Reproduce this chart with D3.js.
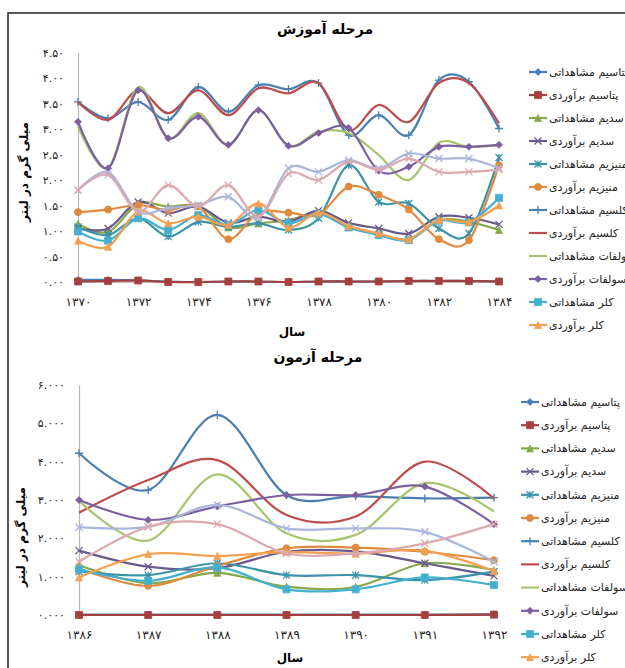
<!DOCTYPE html>
<html>
<head>
<meta charset="utf-8">
<script src="https://cdn.jsdelivr.net/npm/d3@7"></script>
<style>
  body { margin: 0; background: #fff; }
  text { font-family: "DejaVu Sans", sans-serif; }
</style>
</head>
<body>
<svg id="chart" width="625" height="668"></svg>
<script>
/** Series names as they appear in the legend (same for both panels) */
var seriesNames = [
    'پتاسیم مشاهداتی', 'پتاسیم برآوردی',
    'سدیم مشاهداتی', 'سدیم برآوردی',
    'منیزیم مشاهداتی', 'منیزیم برآوردی',
    'کلسیم مشاهداتی', 'کلسیم برآوردی',
    'سولفات مشاهداتی', 'سولفات برآوردی',
    'کلر مشاهداتی', 'کلر برآوردی'
];

/** Training panel (مرحله آموزش) */
var trainYears = [1370, 1371, 1372, 1373, 1374, 1375, 1376, 1377, 1378, 1379, 1380, 1381, 1382, 1383, 1384];
var trainYearLabels = ['۱۳۷۰', '۱۳۷۱', '۱۳۷۲', '۱۳۷۳', '۱۳۷۴', '۱۳۷۵', '۱۳۷۶', '۱۳۷۷', '۱۳۷۸', '۱۳۷۹', '۱۳۸۰', '۱۳۸۱', '۱۳۸۲', '۱۳۸۳', '۱۳۸۴'];
var trainValueTicks = [0, 0.5, 1, 1.5, 2, 2.5, 3, 3.5, 4, 4.5];
var trainValueLabels = ['۰.۰۰', '۰.۵۰', '۱.۰۰', '۱.۵۰', '۲.۰۰', '۲.۵۰', '۳.۰۰', '۳.۵۰', '۴.۰۰', '۴.۵۰'];

var trainPotassiumObs = [0.04, 0.04, 0.03, 0.01, 0, 0.01, 0.01, 0, 0.01, 0.01, 0.01, 0.02, 0.02, 0.02, 0.01];
var trainPotassiumEst = [0.01, 0.02, 0.03, 0, 0, 0.01, 0.01, 0, 0.01, 0.01, 0.01, 0.02, 0.02, 0.02, 0.01];
var trainSodiumObs = [1.14, 0.98, 1.53, 1.48, 1.49, 1.07, 1.15, 1.21, 1.35, 1.08, 0.94, 0.84, 1.22, 1.18, 1.02];
var trainSodiumEst = [1.05, 1.05, 1.57, 1.35, 1.48, 1.16, 1.28, 1.18, 1.40, 1.16, 1.05, 0.95, 1.28, 1.26, 1.13];
var trainMagnesiumObs = [1.08, 0.92, 1.25, 0.89, 1.18, 1.08, 1.15, 1.02, 1.25, 2.29, 1.57, 1.54, 1.05, 0.95, 2.44];
var trainMagnesiumEst = [1.37, 1.42, 1.51, 1.41, 1.48, 0.84, 1.36, 1.36, 1.32, 1.87, 1.71, 1.42, 0.84, 0.82, 2.29];
var trainCalciumObs = [3.53, 3.21, 3.53, 3.18, 3.82, 3.34, 3.86, 3.78, 3.90, 2.88, 3.27, 2.88, 3.96, 3.93, 3.01];
var trainCalciumEst = [3.53, 3.18, 3.76, 3.31, 3.76, 3.27, 3.80, 3.70, 3.90, 2.98, 3.47, 3.14, 3.90, 3.90, 3.11];
var trainSulfateObs = [3.05, 2.23, 3.82, 2.82, 3.31, 2.69, 3.37, 2.67, 2.95, 2.92, 2.49, 2.00, 2.73, 2.65, 2.69];
var trainSulfateEst = [3.14, 2.23, 3.76, 2.82, 3.24, 2.69, 3.37, 2.67, 2.92, 3.02, 2.18, 2.26, 2.65, 2.65, 2.69];
var trainChlorideObs = [0.99, 0.81, 1.25, 1.02, 1.31, 1.12, 1.41, 1.15, 1.33, 1.07, 0.92, 0.82, 1.20, 1.17, 1.65];
var trainChlorideEst = [0.81, 0.69, 1.38, 1.15, 1.28, 1.12, 1.54, 1.07, 1.36, 1.10, 0.95, 0.84, 1.22, 1.18, 1.50];
// two more series are plotted but their legend rows are cut off in the picture
var trainExtraA = [1.80, 2.15, 1.38, 1.45, 1.51, 1.67, 1.26, 2.23, 2.16, 2.39, 2.23, 2.52, 2.42, 2.42, 2.23];
var trainExtraB = [1.80, 2.10, 1.38, 1.90, 1.48, 1.90, 1.28, 2.12, 2.00, 2.36, 2.20, 2.42, 2.16, 2.16, 2.20];

/** Test panel (مرحله آزمون) */
var testYears = [1386, 1387, 1388, 1389, 1390, 1391, 1392];
var testYearLabels = ['۱۳۸۶', '۱۳۸۷', '۱۳۸۸', '۱۳۸۹', '۱۳۹۰', '۱۳۹۱', '۱۳۹۲'];
var testValueTicks = [0, 1, 2, 3, 4, 5, 6];
var testValueLabels = ['۰.۰۰۰', '۱.۰۰۰', '۲.۰۰۰', '۳.۰۰۰', '۴.۰۰۰', '۵.۰۰۰', '۶.۰۰۰'];

var testPotassiumObs = [0.01, 0.01, 0.01, 0.01, 0.01, 0.01, 0.02];
var testPotassiumEst = [0, 0, 0, 0, 0, 0, 0.01];
var testSodiumObs = [1.30, 0.83, 1.10, 0.74, 0.73, 1.35, 1.17];
var testSodiumEst = [1.68, 1.26, 1.22, 1.65, 1.66, 1.35, 1.02];
var testMagnesiumObs = [1.13, 1.04, 1.35, 1.04, 1.04, 0.91, 1.13];
var testMagnesiumEst = [1.22, 0.76, 1.28, 1.74, 1.76, 1.65, 1.43];
var testCalciumObs = [4.22, 3.26, 5.22, 3.13, 3.10, 3.04, 3.06];
var testCalciumEst = [2.67, 3.52, 4.04, 2.61, 2.57, 4.00, 3.04];
var testSulfateObs = [2.98, 1.94, 3.67, 2.13, 2.09, 3.44, 2.70];
var testSulfateEst = [3.00, 2.48, 2.83, 3.13, 3.13, 3.35, 2.37];
var testChlorideObs = [1.19, 0.89, 1.24, 0.67, 0.67, 0.98, 0.78];
var testChlorideEst = [0.98, 1.59, 1.54, 1.64, 1.60, 1.68, 1.15];
var testExtraA = [2.29, 2.30, 2.87, 2.26, 2.26, 2.17, 1.39];
var testExtraB = [1.39, 2.30, 2.37, 1.61, 1.61, 1.87, 2.37];

/** Look of each series, in legend order (extras last) */
var seriesStyles = [
    {color: '#4a7ebb', marker: 'diamond'},
    {color: '#a3403d', marker: 'square'},
    {color: '#86a84a', marker: 'triangle'},
    {color: '#6a5a8c', marker: 'x'},
    {color: '#3b94a8', marker: 'star'},
    {color: '#e08a3e', marker: 'circle'},
    {color: '#4a7fb0', marker: 'plus'},
    {color: '#bd4d4a', marker: 'none'},
    {color: '#a8c46c', marker: 'none'},
    {color: '#7b5f9e', marker: 'diamond'},
    {color: '#44b0cf', marker: 'square'},
    {color: '#f4a052', marker: 'triangle'},
    {color: '#aab5dc', marker: 'x'},
    {color: '#dba9ae', marker: 'x'}
];

var svg = d3.select('#chart');

// outer frame round both panels
svg.append('rect')
    .attr('x', 8).attr('y', 13)
    .attr('width', 700).attr('height', 700)
    .attr('fill', 'none')
    .attr('stroke', '#222')
    .attr('stroke-width', 1.5);

/**
 * Returns a path string for an Excel-like marker centred on 0,0
 */
function markerPath(type, s) {
    var h = s / 2;
    if (type == 'diamond') return 'M0,' + (-h) + 'L' + h + ',0L0,' + h + 'L' + (-h) + ',0Z';
    if (type == 'square') return 'M' + (-h) + ',' + (-h) + 'h' + s + 'v' + s + 'h' + (-s) + 'Z';
    if (type == 'triangle') return 'M0,' + (-h) + 'L' + h + ',' + h + 'L' + (-h) + ',' + h + 'Z';
    if (type == 'x') return 'M' + (-h) + ',' + (-h) + 'L' + h + ',' + h + 'M' + (-h) + ',' + h + 'L' + h + ',' + (-h);
    if (type == 'star') return 'M' + (-h) + ',' + (-h) + 'L' + h + ',' + h + 'M' + (-h) + ',' + h + 'L' + h + ',' + (-h) + 'M0,' + (-h) + 'L0,' + h;
    if (type == 'plus') return 'M' + (-h) + ',0L' + h + ',0M0,' + (-h) + 'L0,' + h;
    if (type == 'circle') return d3.symbol(d3.symbolCircle, s * s * 0.8)();
    return '';
}

function isStrokeMarker(type) {
    return type == 'x' || type == 'star' || type == 'plus';
}

function drawMarker(g, type, color, x, y) {
    if (type == 'none') return;
    g.append('path')
        .attr('d', markerPath(type, type == 'plus' ? 8 : 7))
        .attr('transform', 'translate(' + x + ',' + y + ')')
        .attr('fill', isStrokeMarker(type) ? 'none' : color)
        .attr('stroke', color)
        .attr('stroke-width', isStrokeMarker(type) ? 1.3 : 0.8);
}

/**
 * Draws one panel: title, axes, smoothed lines with markers and the legend
 */
function drawPanel(cfg) {
    var g = svg.append('g');

    var x = d3.scaleLinear()
        .domain([cfg.years[0], cfg.years[cfg.years.length - 1]])
        .range([cfg.left, cfg.right]);
    var y = d3.scaleLinear()
        .domain([0, cfg.valueTicks[cfg.valueTicks.length - 1]])
        .range([cfg.bottom, cfg.top]);

    // title
    g.append('text')
        .attr('x', cfg.titleX).attr('y', cfg.titleY)
        .attr('text-anchor', 'middle')
        .style('font-size', '14px')
        .style('font-weight', 'bold')
        .text(cfg.title);

    // y axis
    var yAxis = d3.axisLeft(y)
        .tickValues(cfg.valueTicks)
        .tickFormat(function(d, i) { return cfg.valueLabels[i]; })
        .tickSize(0)
        .tickPadding(14);
    var ya = g.append('g')
        .attr('transform', 'translate(' + cfg.left + ',0)')
        .call(yAxis);
    ya.select('.domain').attr('stroke', '#b8b8b8').attr('stroke-width', 1.2);
    ya.selectAll('text').style('font-size', '11px').style('font-family', '"DejaVu Sans", sans-serif').attr('fill', '#222');

    // x axis (labels only, the zero line is hidden under the potassium series)
    var xAxis = d3.axisBottom(x)
        .tickValues(cfg.years.filter(function(d, i) { return i % cfg.labelEvery == 0; }))
        .tickFormat(function(d) { return cfg.yearLabels[cfg.years.indexOf(d)]; })
        .tickSize(0)
        .tickPadding(15);
    var xa = g.append('g')
        .attr('transform', 'translate(0,' + cfg.bottom + ')')
        .call(xAxis);
    xa.select('.domain').attr('stroke', '#b8b8b8');
    xa.selectAll('text').style('font-size', '12px').style('font-family', '"DejaVu Sans", sans-serif').attr('fill', '#222');

    // axis titles
    g.append('text')
        .attr('x', cfg.xTitleX).attr('y', cfg.xTitleY)
        .attr('text-anchor', 'middle')
        .style('font-size', '12px')
        .style('font-weight', 'bold')
        .text('سال');
    g.append('text')
        .attr('transform', 'translate(' + cfg.yTitleX + ',' + cfg.yTitleY + ') rotate(-90)')
        .attr('text-anchor', 'middle')
        .style('font-size', '12px')
        .style('font-weight', 'bold')
        .text('میلی گرم در لیتر');

    var line = d3.line()
        .x(function(d, i) { return x(cfg.years[i]); })
        .y(function(d) { return y(d); })
        .curve(d3.curveCardinal.tension(0));

    // draw series in order so the later ones sit on top, like Excel
    cfg.series.forEach(function(values, s) {
        var st = seriesStyles[s];
        var sg = g.append('g');
        sg.append('path')
            .attr('d', line(values))
            .attr('fill', 'none')
            .attr('stroke', st.color)
            .attr('stroke-width', 2.2)
            .attr('stroke-linejoin', 'round');
        values.forEach(function(v, i) {
            drawMarker(sg, st.marker, st.color, x(cfg.years[i]), y(v));
        });
    });

    // legend
    var lg = g.append('g');
    seriesNames.forEach(function(name, s) {
        var st = seriesStyles[s];
        var ly = cfg.legendTop + s * cfg.legendStep;
        lg.append('line')
            .attr('x1', cfg.legendX).attr('x2', cfg.legendX + 18)
            .attr('y1', ly).attr('y2', ly)
            .attr('stroke', st.color)
            .attr('stroke-width', 2.2);
        drawMarker(lg, st.marker, st.color, cfg.legendX + 9, ly);
        lg.append('text')
            .attr('x', cfg.legendX + 20).attr('y', ly)
            .attr('dy', '0.35em')
            .style('font-size', '11px')
            .attr('fill', '#222')
            .text(name);
    });
}

drawPanel({
    title: 'مرحله آموزش', titleX: 325, titleY: 34,
    years: trainYears, yearLabels: trainYearLabels, labelEvery: 2,
    valueTicks: trainValueTicks, valueLabels: trainValueLabels,
    series: [trainPotassiumObs, trainPotassiumEst, trainSodiumObs, trainSodiumEst,
             trainMagnesiumObs, trainMagnesiumEst, trainCalciumObs, trainCalciumEst,
             trainSulfateObs, trainSulfateEst, trainChlorideObs, trainChlorideEst,
             trainExtraA, trainExtraB],
    left: 78, right: 499, top: 52.5, bottom: 282,
    xTitleX: 292, xTitleY: 336, yTitleX: 28, yTitleY: 172,
    legendX: 529, legendTop: 72, legendStep: 23
});

drawPanel({
    title: 'مرحله آزمون', titleX: 318, titleY: 362,
    years: testYears, yearLabels: testYearLabels, labelEvery: 1,
    valueTicks: testValueTicks, valueLabels: testValueLabels,
    series: [testPotassiumObs, testPotassiumEst, testSodiumObs, testSodiumEst,
             testMagnesiumObs, testMagnesiumEst, testCalciumObs, testCalciumEst,
             testSulfateObs, testSulfateEst, testChlorideObs, testChlorideEst,
             testExtraA, testExtraB],
    left: 79, right: 494, top: 385, bottom: 615,
    xTitleX: 290, xTitleY: 662, yTitleX: 25, yTitleY: 537,
    legendX: 521, legendTop: 402, legendStep: 23.2
});
</script>
</body>
</html>
